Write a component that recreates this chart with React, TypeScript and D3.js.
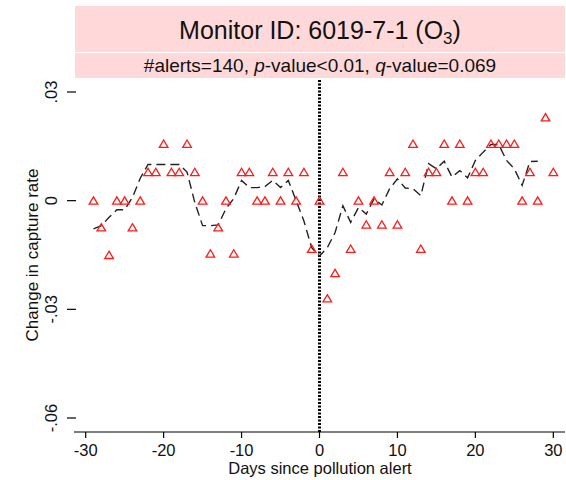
import React from "react";
import * as d3 from "d3";

// Days relative to the alert and the observed change in capture rate
const days: number[] = d3.range(-29, 31);
const captureChange: number[] = [
  0, -0.0074, -0.015, 0, 0, -0.0074, 0, 0.0079, 0.0079, 0.0157,
  0.0079, 0.0079, 0.0157, 0.0079, 0, -0.0146, -0.0074, 0, -0.0146, 0.0079,
  0.0079, 0, 0, 0.0079, 0, 0.0079, 0, 0.0079, -0.0133, 0,
  -0.027, -0.02, 0.0079, -0.0133, 0, -0.0066, 0, -0.0066, 0.0079, -0.0066,
  0.0079, 0.0157, -0.0133, 0.0079, 0.0079, 0.0157, 0, 0.0157, 0, 0.0079,
  0.0079, 0.0157, 0.0157, 0.0157, 0.0157, 0, 0.0079, 0, 0.023, 0.0079,
];

// Smoothed series, days -29..28
const smoothDays: number[] = d3.range(-29, 29);
const smoothValues: number[] = [
  -0.0078, -0.0069, -0.0046, -0.0025, -0.0025, 0.0009, 0.0062, 0.01, 0.01, 0.01,
  0.01, 0.01, 0.0079, -0.0005, -0.0069, -0.0069, -0.0067, -0.0022, 0.0006, 0.0056,
  0.0036, 0.0036, 0.0039, 0.0056, 0.0036, 0.0056, 0, -0.0056, -0.013, -0.0153,
  -0.013, -0.0088, -0.0014, -0.006, -0.0019, -0.0037, 0.0005, -0.0012, 0.0033, 0.006,
  0.0035, 0.0033, 0.0014, 0.0102, 0.0088, 0.0109, 0.0065, 0.0083, 0.0063, 0.0111,
  0.0134, 0.0155, 0.0155, 0.0111, 0.0088, 0.0042, 0.0108, 0.0109,
];

const xTicks: number[] = [-30, -20, -10, 0, 10, 20, 30];
const yTicks: number[] = [0.03, 0, -0.03, -0.06];
const yTickLabels: string[] = [".03", "0", "-.03", "-.06"];

const W = 566;
const H = 480;
const plotLeft = 74;
const plotRight = 565;
const plotTop = 80;
const plotBottom = 432;

const FONT = "'Liberation Sans', Arial, Helvetica, sans-serif";

export default function App() {
  const x = d3.scaleLinear().domain([-31.5, 31.5]).range([plotLeft, plotRight]);
  const y = d3.scaleLinear().domain([0.03, -0.06]).range([92, 418]);

  const line = d3
    .line<number>()
    .x((_, i) => x(smoothDays[i]))
    .y((v) => y(v));

  const tri = (cx: number, cy: number) =>
    `M${cx},${cy - 3.8}L${cx + 4.3},${cy + 3.5}L${cx - 4.3},${cy + 3.5}Z`;

  return (
    <svg
      width={W}
      height={H}
      style={{ position: "absolute", left: 0, top: 0, background: "#fff" }}
      fontFamily={FONT}
    >
      {/* title band */}
      <rect x={75} y={6} width={490} height={46} fill="#ffd9d9" />
      <rect x={75} y={53} width={490} height={25} fill="#ffd9d9" />
      <text x={320} y={39} textAnchor="middle" fontSize={25} fill="#111">
        Monitor ID: 6019-7-1 (O
        <tspan fontSize={17} dy={5}>3</tspan>
        <tspan dy={-5}>)</tspan>
      </text>
      <text x={320} y={72} textAnchor="middle" fontSize={19} fill="#111">
        #alerts=140, <tspan fontStyle="italic">p</tspan>-value&lt;0.01,{" "}
        <tspan fontStyle="italic">q</tspan>-value=0.069
      </text>

      {/* y axis ticks and labels */}
      {yTicks.map((t, i) => (
        <g key={t}>
          <line x1={67} x2={76} y1={y(t)} y2={y(t)} stroke="#000" strokeWidth={1.2} />
          <text
            transform={`translate(57,${y(t)}) rotate(-90)`}
            textAnchor="middle"
            fontSize={16.5}
            fill="#111"
          >
            {yTickLabels[i]}
          </text>
        </g>
      ))}
      <text
        transform={`translate(38,255) rotate(-90)`}
        textAnchor="middle"
        fontSize={17}
        fill="#111"
      >
        Change in capture rate
      </text>

      {/* x axis */}
      <line x1={plotLeft} x2={plotRight} y1={plotBottom} y2={plotBottom} stroke="#000" strokeWidth={1.2} />
      {xTicks.map((t) => (
        <g key={t}>
          <line x1={x(t)} x2={x(t)} y1={plotBottom} y2={plotBottom + 6} stroke="#000" strokeWidth={1.2} />
          <text x={x(t)} y={plotBottom + 24} textAnchor="middle" fontSize={16.5} fill="#111">
            {t}
          </text>
        </g>
      ))}
      <text x={320} y={474} textAnchor="middle" fontSize={16.5} fill="#111">
        Days since pollution alert
      </text>

      {/* alert day marker */}
      <line
        x1={x(0)}
        x2={x(0)}
        y1={plotTop}
        y2={plotBottom}
        stroke="#000"
        strokeWidth={3}
        strokeDasharray="2,1.5"
      />

      {/* smoothed series */}
      <path
        d={line(smoothValues) ?? ""}
        fill="none"
        stroke="#222"
        strokeWidth={1.4}
        strokeDasharray="9,5"
      />

      {/* daily estimates */}
      {days.map((d, i) => (
        <path
          key={d}
          d={tri(x(d), y(captureChange[i]))}
          fill="none"
          stroke="#ff1a1a"
          strokeWidth={1.3}
        />
      ))}
    </svg>
  );
}
